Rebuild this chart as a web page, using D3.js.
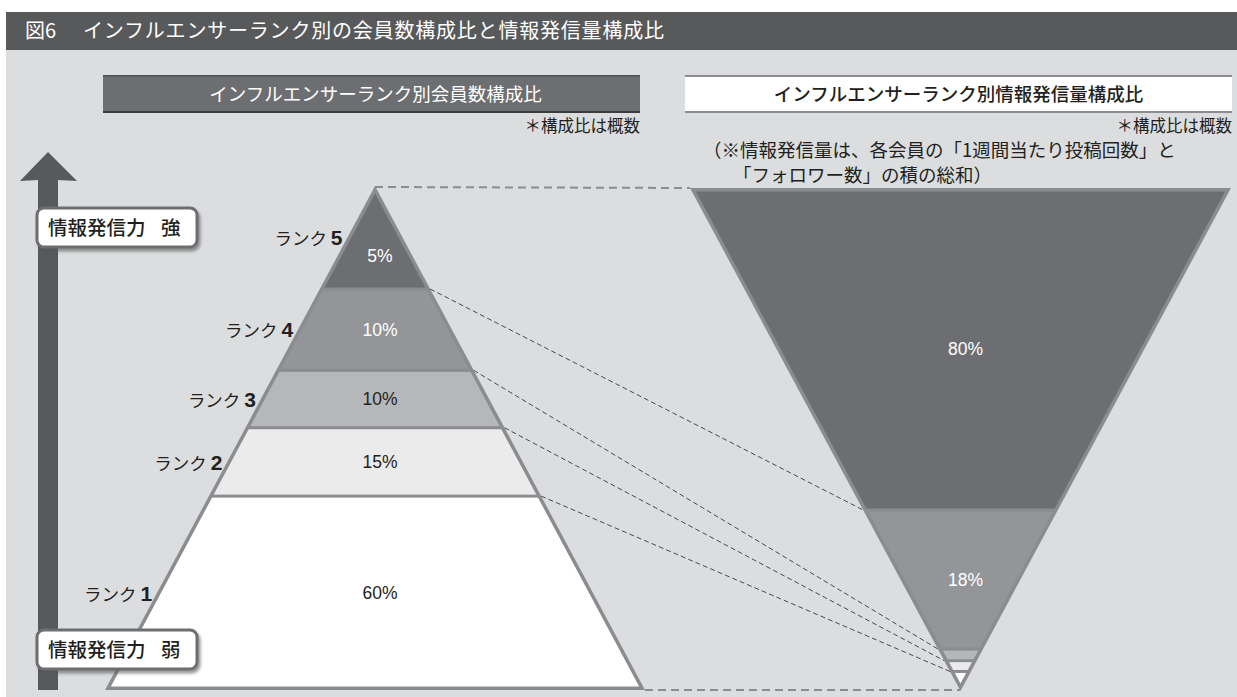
<!DOCTYPE html>
<html lang="ja">
<head>
<meta charset="utf-8">
<script src="https://cdn.jsdelivr.net/npm/d3@7"></script>
<style>
  html, body { margin: 0; padding: 0; background: #ffffff; }
  svg { display: block; }
  text { font-family: "Noto Sans CJK JP", "Noto Sans", sans-serif; }
  .num { font-family: "Liberation Sans", Arial, sans-serif; }
</style>
</head>
<body>
<svg id="chart" width="1237" height="697"></svg>
<script>
// Ranks from the top of the pyramid (strongest) to the bottom
const ranks = [5, 4, 3, 2, 1];
// Share of members per rank (%)
const memberShare = [5, 10, 10, 15, 60];
// Share of information output per rank (%); ranks 3-1 together make up about 2%
const outputShare = [80, 18, 0.8, 0.6, 0.6];

const figureNo = "図6";
const figureTitle = "インフルエンサーランク別の会員数構成比と情報発信量構成比";
const leftTitle = "インフルエンサーランク別会員数構成比";
const rightTitle = "インフルエンサーランク別情報発信量構成比";
const approxNote = "＊構成比は概数";
const outputNote = ["（※情報発信量は、各会員の「1週間当たり投稿回数」と", "「フォロワー数」の積の総和）"];
const axisLabels = [["情報発信力", "強"], ["情報発信力", "弱"]];
const rankWord = "ランク";

const bandFill = { 5: "#6d6e71", 4: "#939598", 3: "#b6b7ba", 2: "#ebebec", 1: "#ffffff" };
const lightText = { 5: true, 4: true, 3: false, 2: false, 1: false };
const edgeColor = "#8b8c8f";
const ink = "#231f20";

const svg = d3.select("#chart");
const defs = svg.append("defs");

// page panels
svg.append("rect").attr("x", 6).attr("y", 50).attr("width", 1231).attr("height", 647).attr("fill", "#dcdddf");
svg.append("rect").attr("x", 6).attr("y", 12).attr("width", 1231).attr("height", 38).attr("fill", "#58595b");
svg.append("text").attr("x", 25).attr("y", 38).attr("fill", "#fff").attr("font-size", 20).text(figureNo);
svg.append("text").attr("x", 83).attr("y", 38).attr("fill", "#fff").attr("font-size", 20).attr("letter-spacing", 0.8).text(figureTitle);

// panel headings
const lBox = { x: 103, y: 75, w: 537, h: 38 };
svg.append("rect").attr("x", lBox.x).attr("y", lBox.y).attr("width", lBox.w).attr("height", lBox.h).attr("fill", "#6d6e71");
svg.append("rect").attr("x", lBox.x).attr("y", lBox.y).attr("width", lBox.w).attr("height", 1.5).attr("fill", "#4d4e50");
svg.append("rect").attr("x", lBox.x).attr("y", lBox.y + lBox.h - 2).attr("width", lBox.w).attr("height", 2).attr("fill", "#3a3b3d");
svg.append("text").attr("x", lBox.x + lBox.w / 2 + 4).attr("y", lBox.y + 26).attr("text-anchor", "middle")
  .attr("fill", "#fff").attr("font-size", 18.5).text(leftTitle);
svg.append("text").attr("x", lBox.x + lBox.w).attr("y", 132).attr("text-anchor", "end")
  .attr("fill", ink).attr("font-size", 16.5).text(approxNote);

const rBox = { x: 685, y: 75, w: 547, h: 38 };
svg.append("rect").attr("x", rBox.x).attr("y", rBox.y).attr("width", rBox.w).attr("height", rBox.h).attr("fill", "#fff");
svg.append("rect").attr("x", rBox.x).attr("y", rBox.y).attr("width", rBox.w).attr("height", 2).attr("fill", edgeColor);
svg.append("rect").attr("x", rBox.x).attr("y", rBox.y + rBox.h - 2).attr("width", rBox.w).attr("height", 2).attr("fill", edgeColor);
svg.append("text").attr("x", rBox.x + rBox.w / 2).attr("y", rBox.y + 26).attr("text-anchor", "middle")
  .attr("fill", ink).attr("font-size", 18.5).attr("font-weight", 500).text(rightTitle);
svg.append("text").attr("x", rBox.x + rBox.w).attr("y", 132).attr("text-anchor", "end")
  .attr("fill", ink).attr("font-size", 16.5).text(approxNote);
svg.append("text").attr("x", 703).attr("y", 157).attr("fill", ink).attr("font-size", 18.5).text(outputNote[0]);
svg.append("text").attr("x", 733).attr("y", 182).attr("fill", ink).attr("font-size", 18.5).text(outputNote[1]);

// strength arrow
svg.append("path")
  .attr("d", "M38,690 L38,180 L20,181 L48,152 L77,181 L58,180 L58,690 Z")
  .attr("fill", "#58595b");

// triangles: pyramid (apex up) and funnel (apex down)
const pyr = { cx: 375, apexY: 186, baseY: 690, half: 270 };
const fun = { cx: 960.5, apexY: 691, baseY: 188, half: 270.5 };

// depth from the apex for a cumulative share, counted from the apex
const pyrH = pyr.baseY - pyr.apexY;
const funH = fun.apexY - fun.baseY;
const pyrDepth = d3.scalePow().exponent(0.53).domain([0, 100]).range([0, pyrH]);
const funDepth = d3.scalePow().exponent(0.635).domain([0, 100]).range([0, funH]);

function corners(t) {
  return [[t.cx, t.apexY], [t.cx - t.half, t.baseY], [t.cx + t.half, t.baseY]];
}
// triangle shrunk inward by w (homothety about the incenter)
function inset(pts, w) {
  const d = (p, q) => Math.hypot(p[0] - q[0], p[1] - q[1]);
  const a = d(pts[1], pts[2]), b = d(pts[0], pts[2]), c = d(pts[0], pts[1]);
  const per = a + b + c;
  const I = [(a * pts[0][0] + b * pts[1][0] + c * pts[2][0]) / per,
             (a * pts[0][1] + b * pts[1][1] + c * pts[2][1]) / per];
  const area = Math.abs((pts[1][0] - pts[0][0]) * (pts[2][1] - pts[0][1]) - (pts[2][0] - pts[0][0]) * (pts[1][1] - pts[0][1])) / 2;
  const r = area / (per / 2);
  const k = (r - w) / r;
  return pts.map(p => [I[0] + k * (p[0] - I[0]), I[1] + k * (p[1] - I[1])]);
}
const line = d3.line();

function drawTriangle(t, shares, depth, id, fromTop) {
  const outer = corners(t);
  const g = svg.append("g");
  g.append("path").attr("d", line(outer) + "Z").attr("fill", edgeColor);
  defs.append("clipPath").attr("id", id).append("path").attr("d", line(inset(outer, 3.5)) + "Z");
  // order bands from the apex outward
  const order = fromTop ? d3.range(shares.length) : d3.range(shares.length).reverse();
  const cum = d3.cumsum(order.map(i => shares[i]));
  const dir = Math.sign(t.baseY - t.apexY);
  const bands = order.map((i, k) => {
    const d0 = k === 0 ? 0 : depth(cum[k - 1]);
    const d1 = depth(cum[k]);
    const y0 = t.apexY + dir * d0, y1 = t.apexY + dir * d1;
    return { i, rank: ranks[i], value: shares[i], top: Math.min(y0, y1), bottom: Math.max(y0, y1), d0, d1 };
  });
  const gap = 3;
  g.append("g").attr("clip-path", `url(#${id})`)
    .selectAll("rect").data(bands).join("rect")
    .attr("x", t.cx - t.half - 10).attr("width", 2 * t.half + 20)
    .attr("y", b => b.top + (b.d0 === 0 && dir > 0 ? -10 : gap / 2))
    .attr("height", b => (b.bottom - b.top) + (b.d0 === 0 ? 10 - gap / 2 : -gap))
    .attr("fill", b => bandFill[b.rank]);
  return bands;
}

const leftBands = drawTriangle(pyr, memberShare, pyrDepth, "clipPyr", true);
const rightBands = drawTriangle(fun, outputShare, funDepth, "clipFun", false);

// percentage labels
function pctLabel(t, b, atApex) {
  const y = atApex ? b.top + 0.68 * (b.bottom - b.top) : (b.top + b.bottom) / 2;
  svg.append("text").attr("class", "num")
    .attr("x", t.cx + 5).attr("y", y).attr("dy", "0.36em").attr("text-anchor", "middle")
    .attr("font-size", 17.5).attr("fill", lightText[b.rank] ? "#fff" : ink)
    .text(`${b.value}%`);
}
leftBands.forEach(b => pctLabel(pyr, b, b.d0 === 0));
rightBands.filter(b => b.value >= 5).forEach(b => pctLabel(fun, b, false));

// rank labels beside the pyramid
const halfAt = (t, y) => t.half * Math.abs(y - t.apexY) / Math.abs(t.baseY - t.apexY);
leftBands.forEach(b => {
  const y = (b.top + b.bottom) / 2 + 2;
  const x = pyr.cx - halfAt(pyr, y - 6) - 7;
  const tx = svg.append("text").attr("x", x).attr("y", y).attr("dy", "0.36em").attr("text-anchor", "end").attr("fill", ink);
  tx.append("tspan").attr("font-size", 17.5).text(rankWord + " ");
  tx.append("tspan").attr("class", "num").attr("font-size", 21).attr("font-weight", "bold").text(b.rank);
});

// dashed connectors between matching rank boundaries
const conn = svg.append("g").attr("fill", "none");
d3.range(ranks.length - 1).forEach(k => {
  const yl = leftBands[k].bottom;
  const rb = rightBands.find(b => b.rank === ranks[k]);
  const yr = rb.bottom;
  conn.append("line")
    .attr("x1", pyr.cx + halfAt(pyr, yl)).attr("y1", yl)
    .attr("x2", fun.cx - halfAt(fun, yr)).attr("y2", yr)
    .attr("stroke", "#4a4a4c").attr("stroke-width", 1).attr("stroke-dasharray", "5,3");
});
conn.append("line").attr("x1", pyr.cx).attr("y1", pyr.apexY + 1).attr("x2", fun.cx - fun.half).attr("y2", fun.baseY)
  .attr("stroke", edgeColor).attr("stroke-width", 2).attr("stroke-dasharray", "8,5");
conn.append("line").attr("x1", pyr.cx + pyr.half).attr("y1", pyr.baseY).attr("x2", fun.cx).attr("y2", pyr.baseY)
  .attr("stroke", edgeColor).attr("stroke-width", 2).attr("stroke-dasharray", "8,5");

// strength labels on the arrow
const shadow = defs.append("filter").attr("id", "shadow").attr("x", "-20%").attr("y", "-30%").attr("width", "140%").attr("height", "160%");
shadow.append("feDropShadow").attr("dx", 2).attr("dy", 3).attr("stdDeviation", 1.5).attr("flood-color", "#555").attr("flood-opacity", 0.6);
[[208, axisLabels[0]], [630, axisLabels[1]]].forEach(([y, label]) => {
  svg.append("rect").attr("x", 37).attr("y", y).attr("width", 160).attr("height", 39).attr("rx", 7)
    .attr("fill", "#fff").attr("stroke", "#6d6e71").attr("stroke-width", 3).attr("filter", "url(#shadow)");
  const t = svg.append("text").attr("y", y + 20).attr("dy", "0.36em")
    .attr("font-size", 19.5).attr("font-weight", 500).attr("fill", ink);
  t.append("tspan").attr("x", 48).text(label[0]);
  t.append("tspan").attr("x", 161).text(label[1]);
});
</script>
</body>
</html>
